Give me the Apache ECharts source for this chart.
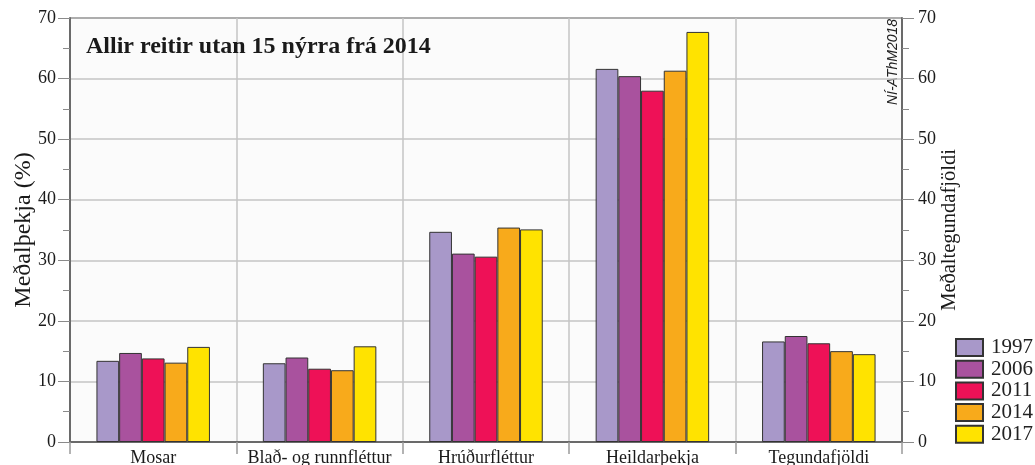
<!DOCTYPE html>
<html>
<head>
<meta charset="utf-8">
<script src="https://cdn.jsdelivr.net/npm/echarts@6/dist/echarts.min.js"></script>
<style>
  html, body { margin: 0; padding: 0; background: #fff; }
  #chart { width: 1035px; height: 465px; }
</style>
</head>
<body>
<div id="chart"></div>
<script>
// gögn
const categories = ['Mosar', 'Blað- og runnfléttur', 'Hrúðurfléttur', 'Heildarþekja', 'Tegundafjöldi']
const years = ['1997', '2006', '2011', '2014', '2017']
const v1997 = [13.4, 13.0, 34.7, 61.6, 16.6]
const v2006 = [14.7, 13.95, 31.1, 60.4, 17.5]
const v2011 = [13.8, 12.1, 30.6, 58.0, 16.3]
const v2014 = [13.1, 11.85, 35.4, 61.3, 15.0]
const v2017 = [15.7, 15.8, 35.1, 67.7, 14.5]
const colors = ['#a898c9', '#a9529e', '#ee1157', '#f8aa1b', '#ffe300']

const allValues = [v1997, v2006, v2011, v2014, v2017]
const serif = '"Liberation Serif", "DejaVu Serif", serif'

let myChart = echarts.init(document.getElementById('chart'))

let opt = {
  animation: false,
  backgroundColor: '#fff',
  textStyle: { fontFamily: serif },
  title: {
    text: 'Allir reitir utan 15 nýrra frá 2014',
    left: 86,
    top: 35,
    padding: 0,
    textStyle: { fontFamily: serif, fontSize: 24, fontWeight: 'bold', color: '#1a1a1a' }
  },
  legend: {
    orient: 'vertical',
    left: 955,
    top: 337,
    padding: 0,
    itemWidth: 27,
    itemHeight: 17,
    itemGap: 0.7,
    icon: 'rect',
    data: years,
    textStyle: { fontFamily: serif, fontSize: 21, color: '#222', padding: [0, 0, 0, 3] }
  },
  grid: {
    left: 70, right: 133, top: 18, bottom: 23,
    outerBoundsMode: 'none',
    containLabel: false,
    backgroundColor: '#fbfbfb', show: true, borderWidth: 0
  },
  xAxis: {
    type: 'category',
    data: categories,
    axisLine: { lineStyle: { color: '#6a6a6a', width: 2 } },
    axisTick: { show: true, length: 12, lineStyle: { color: '#9a9a9a', width: 1.5 } },
    axisLabel: { interval: 0, fontFamily: serif, fontSize: 18, color: '#1a1a1a', margin: 7 },
    splitLine: { show: true, interval: 0, lineStyle: { color: '#c4c4c4', width: 1.5 } }
  },
  yAxis: [
    {
      type: 'value',
      name: 'Meðalþekja (%)',
      nameLocation: 'middle',
      nameMoveOverlap: false,
      nameGap: 34,
      nameTextStyle: { fontFamily: serif, fontSize: 24, color: '#1a1a1a' },
      min: 0, max: 70, interval: 10,
      axisLine: { show: true, lineStyle: { color: '#6a6a6a', width: 2 } },
      axisTick: { show: true, length: 12, lineStyle: { color: '#8a8a8a' } },
      minorTick: { show: true, splitNumber: 2, length: 7, lineStyle: { color: '#8a8a8a' } },
      axisLabel: { fontFamily: serif, fontSize: 18, color: '#1a1a1a', margin: 14 },
      splitLine: { show: true, lineStyle: { color: '#c4c4c4', width: 1.5 } }
    },
    {
      type: 'value',
      name: 'Meðaltegundafjöldi',
      nameLocation: 'middle',
      nameMoveOverlap: false,
      nameGap: 37,
      nameTextStyle: { fontFamily: serif, fontSize: 20.5, color: '#1a1a1a' },
      min: 0, max: 70, interval: 10,
      axisLine: { show: true, lineStyle: { color: '#6a6a6a', width: 2 } },
      axisTick: { show: true, length: 12, lineStyle: { color: '#8a8a8a' } },
      minorTick: { show: true, splitNumber: 2, length: 7, lineStyle: { color: '#8a8a8a' } },
      axisLabel: { fontFamily: serif, fontSize: 18, color: '#1a1a1a', margin: 16 },
      splitLine: { show: false }
    }
  ],
  graphic: [
    {
      type: 'line',
      shape: { x1: 70, y1: 18, x2: 902, y2: 18 },
      style: { stroke: '#6a6a6a', lineWidth: 2 }
    },
    {
      type: 'text',
      x: 893,
      y: 62,
      rotation: Math.PI / 2,
      style: {
        text: 'NÍ-AThM2018',
        fontFamily: '"Liberation Sans", Arial, sans-serif',
        fontStyle: 'italic',
        fontSize: 14,
        fill: '#222',
        align: 'center',
        verticalAlign: 'middle'
      }
    }
  ],
  series: years.map((y, i) => ({
    name: y,
    type: 'bar',
    data: allValues[i],
    barWidth: 22.7,
    barGap: '0%',
    itemStyle: { color: colors[i], borderColor: '#333', borderWidth: 1 }
  }))
}

myChart.setOption(opt)
</script>
</body>
</html>
